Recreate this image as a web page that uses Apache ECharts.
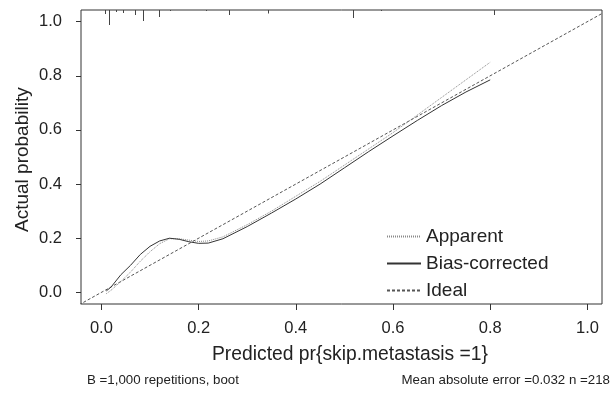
<!DOCTYPE html>
<html>
<head>
<meta charset="utf-8">
<script src="https://cdn.jsdelivr.net/npm/echarts@6/dist/echarts.min.js"></script>
<style>
html,body{margin:0;padding:0;background:#fff;}
#chart{width:616px;height:393px;}
</style>
</head>
<body>
<div id="chart"></div>
<script>
// ---- data ----
const calX = [0.01, 0.02, 0.04, 0.06, 0.08, 0.10, 0.12, 0.14, 0.16, 0.18, 0.20, 0.22, 0.25, 0.30, 0.35, 0.40, 0.45, 0.50, 0.55, 0.60, 0.65, 0.70, 0.75, 0.80];
const apparentY = [-0.005, 0.008, 0.04, 0.075, 0.115, 0.15, 0.18, 0.198, 0.198, 0.193, 0.188, 0.19, 0.205, 0.25, 0.30, 0.355, 0.41, 0.47, 0.53, 0.59, 0.655, 0.72, 0.785, 0.85];
const biasY = [0.005, 0.02, 0.065, 0.10, 0.14, 0.17, 0.19, 0.20, 0.196, 0.187, 0.181, 0.182, 0.198, 0.243, 0.293, 0.345, 0.40, 0.46, 0.52, 0.578, 0.635, 0.69, 0.74, 0.785];
const idealX = [-0.1, 1.1];
const idealY = [-0.1, 1.1];
const rugX = [0.007, 0.015, 0.031, 0.045, 0.07, 0.086, 0.118, 0.141, 0.215, 0.263, 0.342, 0.518, 0.575, 0.807];
const rugFreq = [4, 15, 2, 3, 5, 11, 7, 1, 1, 5, 3.5, 8, 1, 5];
const tickValues = [0, 0.2, 0.4, 0.6, 0.8, 1.0];
const seriesNames = ['Apparent', 'Bias-corrected', 'Ideal'];
const xTitle = 'Predicted pr{skip.metastasis =1}';
const yTitle = 'Actual probability';
const footLeft = 'B =1,000 repetitions, boot';
const footRight = 'Mean absolute error =0.032 n =218';

// ---- layout/style ----
const FONT = '"Liberation Sans", Arial, Helvetica, sans-serif';
const TXT = '#222';
const X_MIN = -0.042, X_MAX = 1.030, Y_MIN = -0.043, Y_MAX = 1.043;

const zip = (a, b) => a.map((v, i) => [v, b[i]]);

const chart = echarts.init(document.getElementById('chart'), null, {renderer: 'canvas'});
chart.setOption({
  animation: false,
  backgroundColor: '#fff',
  grid: {left: 81, right: 14, top: 10, bottom: 89, show: true, borderColor: '#333', borderWidth: 1, backgroundColor: 'transparent'},
  xAxis: {
    type: 'value', min: X_MIN, max: X_MAX,
    axisLine: {show: false, onZero: false},
    splitLine: {show: false},
    axisTick: {show: true, inside: false, length: 6, lineStyle: {color: '#333'}, customValues: tickValues},
    axisLabel: {show: true, margin: 16, fontSize: 16.5, color: TXT, fontFamily: FONT, customValues: tickValues,
      formatter: v => v.toFixed(1)}
  },
  yAxis: {
    type: 'value', min: Y_MIN, max: Y_MAX,
    axisLine: {show: false, onZero: false},
    splitLine: {show: false},
    axisTick: {show: true, inside: false, length: 5, lineStyle: {color: '#333'}, customValues: tickValues},
    axisLabel: {show: true, margin: 19, fontSize: 16.5, color: TXT, fontFamily: FONT, customValues: tickValues,
      formatter: v => v.toFixed(1)}
  },
  legend: {
    orient: 'vertical', left: 381, top: 222,
    itemWidth: 34, itemHeight: 14, itemGap: 8,
    itemStyle: {opacity: 0},
    textStyle: {fontSize: 19, color: TXT, fontFamily: FONT},
    data: seriesNames
  },
  graphic: [
    {type: 'text', left: 212, top: 345, style: {text: xTitle, font: '19.3px ' + FONT, fill: TXT}},
    {type: 'text', rotation: Math.PI / 2, x: 13, y: 232, style: {text: yTitle, font: '19px ' + FONT, fill: TXT, textAlign: 'left', textVerticalAlign: 'top'}},
    {type: 'text', left: 87, top: 374, style: {text: footLeft, font: '13.3px ' + FONT, fill: TXT}},
    {type: 'text', right: 6, top: 374, style: {text: footRight, font: '13.3px ' + FONT, fill: TXT}}
  ],
  series: [
    {name: seriesNames[0], type: 'line', data: zip(calX, apparentY), symbol: 'none', smooth: false,
      lineStyle: {color: '#8a8a8a', width: 1, type: [1, 1]}, itemStyle: {color: '#8a8a8a'}, z: 3},
    {name: seriesNames[1], type: 'line', data: zip(calX, biasY), symbol: 'none', smooth: false,
      lineStyle: {color: '#333', width: 1, type: 'solid'}, itemStyle: {color: '#333'}, z: 4},
    {name: seriesNames[2], type: 'line', data: zip(idealX, idealY), symbol: 'none', clip: true,
      lineStyle: {color: '#555', width: 1, type: [3, 2]}, itemStyle: {color: '#555'}, z: 2},
    {name: 'rug', type: 'custom', data: zip(rugX, rugFreq), silent: true, clip: true,
      renderItem: function (params, api) {
        const p = api.coord([api.value(0), Y_MAX]);
        const x = Math.round(p[0]) + 0.5;
        return {type: 'line', shape: {x1: x, y1: p[1], x2: x, y2: p[1] + api.value(1)},
          style: {stroke: '#444', lineWidth: 1}};
      }}
  ]
});
</script>
</body>
</html>
